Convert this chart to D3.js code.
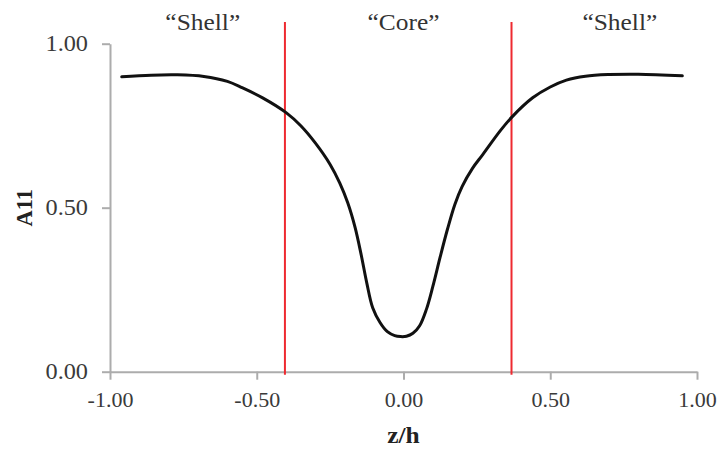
<!DOCTYPE html>
<html>
<head>
<meta charset="utf-8">
<script src="https://cdn.jsdelivr.net/npm/d3@7/dist/d3.min.js"></script>
<style>
  html, body { margin: 0; padding: 0; background: #fff; }
  svg { display: block; }
  .tick text { font-family: "Liberation Serif", "Times New Roman", serif; font-size: 22.5px; fill: #3a3a3a; }
  .axis path, .axis line { stroke: #acacac; stroke-width: 2px; }
</style>
</head>
<body>
<svg id="chart" width="718" height="449"></svg>
<script>
// A11 profile across the normalised thickness z/h
const zValues = [-0.96, -0.86, -0.77, -0.68, -0.60, -0.55, -0.48, -0.40, -0.35, -0.30, -0.25, -0.217,
  -0.19, -0.165, -0.145, -0.125, -0.105, -0.08, -0.055, -0.03, -0.01, 0.01, 0.032, 0.055, 0.078,
  0.10, 0.125, 0.15, 0.175, 0.20, 0.235, 0.27, 0.33, 0.37, 0.44, 0.50, 0.555, 0.62, 0.70, 0.80, 0.95];
const a11Values = [0.899, 0.904, 0.905, 0.900, 0.885, 0.866, 0.835, 0.790, 0.750, 0.697, 0.632, 0.575,
  0.515, 0.440, 0.360, 0.270, 0.195, 0.150, 0.122, 0.110, 0.107, 0.108, 0.117, 0.140, 0.190,
  0.260, 0.350, 0.435, 0.510, 0.565, 0.620, 0.662, 0.735, 0.777, 0.835, 0.868, 0.889, 0.901, 0.906, 0.907, 0.902];

// Core / shell boundaries and region labels
const boundaries = [-0.404, 0.368];
const regionLabels = ["\u201CShell\u201D", "\u201CCore\u201D", "\u201CShell\u201D"];
const regionCenters = [-0.684, 0.0, 0.737];

const xTicks = [-1.0, -0.5, 0.0, 0.5, 1.0];
const yTicks = [0.0, 0.5, 1.0];
const xTitle = "z/h";
const yTitle = "A11";

const serif = "Liberation Serif, Times New Roman, serif";
const stretch = 1.13; // slightly wide lettering for the headings

const svg = d3.select("#chart");
const x = d3.scaleLinear().domain([-1, 1]).range([110, 697]);
const y = d3.scaleLinear().domain([0, 1]).range([371.7, 43.7]);
const fmt = d => d.toFixed(2);

// Axes
svg.append("g")
  .attr("class", "axis")
  .attr("transform", `translate(0,${y(0)})`)
  .call(d3.axisBottom(x).tickValues(xTicks).tickFormat(fmt).tickSize(8).tickSizeOuter(0).tickPadding(12))
  .call(g => g.selectAll(".tick text")
    .attr("dy", "0.71em")
    .attr("font-size", 22)
    .style("font-size", "22px"));

svg.append("g")
  .attr("class", "axis")
  .attr("transform", `translate(${x(-1)},0)`)
  .call(d3.axisLeft(y).tickValues(yTicks).tickFormat(fmt).tickSize(8).tickSizeOuter(0).tickPadding(14))
  .call(g => g.selectAll(".tick text")
    .attr("x", 0)
    .attr("transform", `translate(-22,0) scale(1.08,1)`));

// Boundary lines
svg.selectAll(".boundary")
  .data(boundaries)
  .join("line")
  .attr("class", "boundary")
  .attr("x1", d => x(d)).attr("x2", d => x(d))
  .attr("y1", 22).attr("y2", y(0) + 3)
  .attr("stroke", "#ee2a30")
  .attr("stroke-width", 2);

// Profile curve
const pts = zValues.map((z, i) => [z, a11Values[i]]);
svg.append("path")
  .datum(pts)
  .attr("fill", "none")
  .attr("stroke", "#111")
  .attr("stroke-width", 3)
  .attr("stroke-linecap", "round")
  .attr("d", d3.line().x(d => x(d[0])).y(d => y(d[1])).curve(d3.curveCatmullRom.alpha(0.5)));

// Region labels
svg.selectAll(".region")
  .data(regionLabels)
  .join("text")
  .attr("class", "region")
  .attr("transform", (d, i) => `translate(${x(regionCenters[i])},30) scale(${stretch},1)`)
  .attr("text-anchor", "middle")
  .attr("font-family", serif)
  .attr("font-size", 22.5)
  .attr("fill", "#333")
  .text(d => d);

// Axis titles
svg.append("text")
  .attr("transform", `translate(${x(0)},443) scale(${stretch},1)`)
  .attr("text-anchor", "middle")
  .attr("font-family", serif)
  .attr("font-size", 22.5).attr("font-weight", "bold").attr("fill", "#222")
  .text(xTitle);

svg.append("text")
  .attr("transform", `translate(32,${y(0.5)}) rotate(-90)`)
  .attr("text-anchor", "middle")
  .attr("font-family", serif)
  .attr("font-size", 22.5).attr("font-weight", "bold").attr("fill", "#222")
  .text(yTitle);
</script>
</body>
</html>
